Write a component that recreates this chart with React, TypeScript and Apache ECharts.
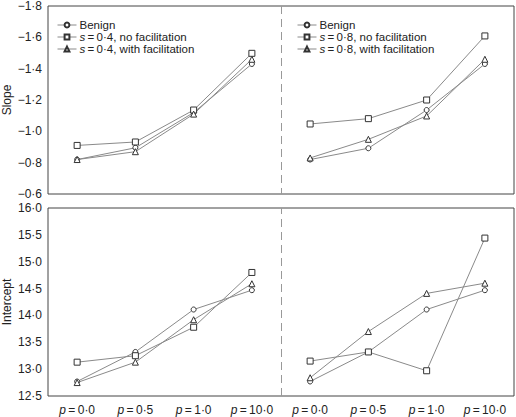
import React, { useEffect, useRef } from "react";
import * as echarts from "echarts";

const categories = ["0·0", "0·5", "1·0", "10·0", "0·0", "0·5", "1·0", "10·0"];

// Slope (top panels)
const slopeBenignL = [-0.82, -0.895, -1.12, -1.43];
const slopeNoFacL = [-0.91, -0.932, -1.136, -1.498];
const slopeWithFacL = [-0.82, -0.87, -1.11, -1.46];
const slopeBenignR = [-0.82, -0.892, -1.136, -1.43];
const slopeNoFacR = [-1.047, -1.081, -1.2, -1.609];
const slopeWithFacR = [-0.83, -0.949, -1.098, -1.46];

// Intercept (bottom panels)
const intBenignL = [12.77, 13.32, 14.11, 14.47];
const intNoFacL = [13.13, 13.25, 13.78, 14.8];
const intWithFacL = [12.75, 13.13, 13.92, 14.59];
const intBenignR = [12.77, 13.32, 14.11, 14.47];
const intNoFacR = [13.15, 13.32, 12.97, 15.44];
const intWithFacR = [12.84, 13.7, 14.41, 14.6];

const namesL = ["Benign", "s=0·4, no facilitation", "s=0·4, with facilitation"];
const namesR = ["Benign", "s=0·8, no facilitation", "s=0·8, with facilitation"];

const FONT = "Liberation Sans";

const fmtNum = (v: number) =>
  (v < 0 ? "\u2212" : "") + Math.abs(v).toFixed(1).replace(".", "·");

const left = (a: number[]) => [...a, null, null, null, null];
const right = (a: number[]) => [null, null, null, null, ...a];

const symbols = ["circle", "rect", "triangle"];
const sizes = [5, 6, 6];

export default function App() {
  const ref = useRef<HTMLDivElement>(null);
  useEffect(() => {
    const chart = echarts.init(ref.current!, null, { renderer: "svg" });
    const mk = (name: string, idx: number, data: any[], row: number) => ({
      type: "line",
      name,
      xAxisIndex: row,
      yAxisIndex: row,
      data,
      symbol: symbols[idx],
      symbolSize: sizes[idx],
      showSymbol: true,
      lineStyle: { color: "#8a8a8a", width: 1 },
      itemStyle: { color: "#fff", borderColor: "#333", borderWidth: 1 },
      emphasis: { disabled: true },
      z: 3,
    });
    const divider = (row: number) => ({
      type: "line",
      name: "divider" + row,
      xAxisIndex: row + 2,
      yAxisIndex: row,
      data: [],
      silent: true,
      markLine: {
        silent: true,
        symbol: "none",
        label: { show: false },
        lineStyle: { color: "#999", type: [8, 5], width: 1 },
        data: [{ xAxis: 4 }],
      },
    });
    const series = [
      mk(namesL[0], 0, left(slopeBenignL), 0),
      mk(namesL[1], 1, left(slopeNoFacL), 0),
      mk(namesL[2], 2, left(slopeWithFacL), 0),
      mk(namesR[0], 0, right(slopeBenignR), 0),
      mk(namesR[1], 1, right(slopeNoFacR), 0),
      mk(namesR[2], 2, right(slopeWithFacR), 0),
      mk(namesL[0], 0, left(intBenignL), 1),
      mk(namesL[1], 1, left(intNoFacL), 1),
      mk(namesL[2], 2, left(intWithFacL), 1),
      mk(namesR[0], 0, right(intBenignR), 1),
      mk(namesR[1], 1, right(intNoFacR), 1),
      mk(namesR[2], 2, right(intWithFacR), 1),
      divider(0),
      divider(1),
    ];
    const legendBase = {
      orient: "vertical",
      top: 19,
      padding: 0,
      itemWidth: 19,
      itemHeight: 6,
      itemGap: 0,
      selectedMode: false,
      lineStyle: { color: "#8a8a8a", width: 1 },
      textStyle: {
        fontFamily: FONT,
        fontSize: 11.5,
        color: "#222",
        lineHeight: 11.5,
        padding: [0, 0, 0, -2],
        rich: { i: { fontStyle: "italic", fontFamily: FONT, fontSize: 11.5, color: "#222", lineHeight: 11.5 } },
      },
      formatter: (n: string) => n.replace(/^s=/, "{i|s}\u2009=\u2009"),
    };
    const xBase = (row: number) => ({
      type: "category",
      gridIndex: row,
      data: categories,
      boundaryGap: true,
      axisLine: { show: false },
      axisTick: { show: false },
      splitLine: { show: false },
      axisLabel: {
        show: row === 1,
        interval: 0,
        fontFamily: FONT,
        fontSize: 12,
        color: "#222",
        margin: 8,
        formatter: (v: string) => "{i|p}\u2009=\u2009" + v,
        rich: { i: { fontStyle: "italic", fontFamily: FONT, fontSize: 12, color: "#222" } },
      },
    });
    const xHidden = (row: number) => ({
      type: "value",
      gridIndex: row,
      min: 0,
      max: 8,
      show: false,
    });
    const gridBase = {
      left: 48,
      right: 2,
      height: 188,
      show: true,
      borderColor: "#444",
      borderWidth: 1,
      backgroundColor: "transparent",
      containLabel: false,
      outerBoundsMode: "none",
    };
    const yBase = {
      type: "value",
      nameLocation: "middle",
      nameGap: 35,
      nameMoveOverlap: false,
      nameTextStyle: { fontFamily: FONT, fontSize: 12, color: "#222" },
      axisLine: { show: false },
      axisTick: { show: false },
      splitLine: { show: false },
      axisLabel: { fontFamily: FONT, fontSize: 12, color: "#222", margin: 6, formatter: fmtNum },
    };
    chart.setOption({
      animation: false,
      backgroundColor: "#fff",
      grid: [
        { ...gridBase, top: 6 },
        { ...gridBase, top: 208 },
      ],
      legend: [
        { ...legendBase, left: 57, data: namesL },
        { ...legendBase, left: 297, data: namesR },
      ],
      xAxis: [xBase(0), xBase(1), xHidden(0), xHidden(1)],
      yAxis: [
        { ...yBase, gridIndex: 0, min: -1.8, max: -0.6, interval: 0.2, inverse: true, name: "Slope" },
        { ...yBase, gridIndex: 1, min: 12.5, max: 16, interval: 0.5, name: "Intercept" },
      ],
      series,
    });
    return () => chart.dispose();
  }, []);
  return <div ref={ref} style={{ width: 516, height: 417, position: "absolute", left: 0, top: 0 }} />;
}
